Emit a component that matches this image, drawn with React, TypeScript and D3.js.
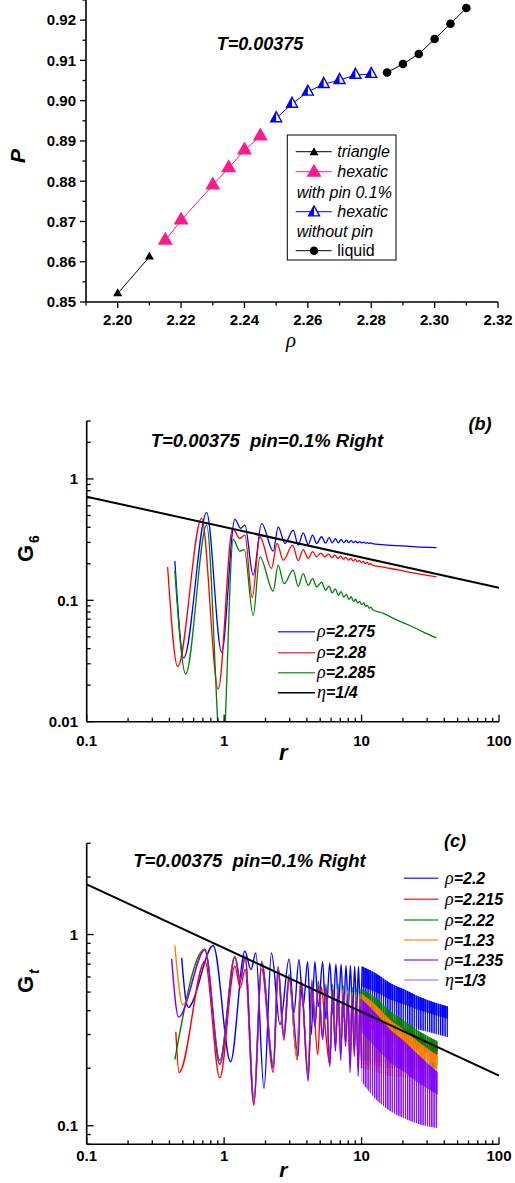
import React from 'react';
import * as d3 from 'd3';

type Pt = [number, number];
const FONT = '"Liberation Sans", Arial, Helvetica, sans-serif';
const SERIF = '"Liberation Serif", "Times New Roman", serif';

// ---------------- Panel (a): P vs rho ----------------
const triRho = [2.2, 2.21];
const triP = [0.8521, 0.8612];
const pinRho = [2.215, 2.22, 2.23, 2.235, 2.24, 2.245];
const pinP = [0.8653, 0.8703, 0.879, 0.8833, 0.8877, 0.8912];
const nopinRho = [2.25, 2.255, 2.26, 2.265, 2.27, 2.275, 2.28];
const nopinP = [0.8956, 0.8992, 0.9022, 0.9041, 0.9051, 0.9064, 0.9066];
const liqRho = [2.285, 2.29, 2.295, 2.3, 2.305, 2.31];
const liqP = [0.907, 0.9091, 0.9116, 0.9153, 0.9191, 0.923];
const aXTicks = [2.2, 2.22, 2.24, 2.26, 2.28, 2.3, 2.32];
const aYTicks = [0.85, 0.86, 0.87, 0.88, 0.89, 0.9, 0.91, 0.92];

// ---------------- Panel (b): G6 vs r ----------------
const bRho2275: Pt[] = [
  [0.438, 0.211], [0.508, 0.0336], [0.746, 0.527], [0.959, 0.0374], [1.198, 0.464], [1.318, 0.392],
  [1.416, 0.417], [1.627, 0.161], [1.874, 0.43], [2.275, 0.254], [2.474, 0.403], [2.77, 0.294],
  [3.18, 0.379], [3.46, 0.285], [3.76, 0.36], [4.09, 0.288], [4.4, 0.344], [4.71, 0.294],
  [5.12, 0.334], [5.47, 0.296], [5.8, 0.328], [6.12, 0.297], [6.45, 0.322], [6.78, 0.298],
  [7.1, 0.317], [7.43, 0.299], [7.75, 0.313], [8.08, 0.299], [8.4, 0.31], [8.73, 0.299],
  [9.05, 0.307], [9.38, 0.298], [9.7, 0.304], [10.0, 0.297], [10.4, 0.302], [10.7, 0.295],
  [11.0, 0.299], [11.4, 0.294], [11.7, 0.297], [12.0, 0.293], [14.0, 0.288], [18.0, 0.282],
  [25.0, 0.276], [35.1, 0.272],
];
const bRho228: Pt[] = [
  [0.388, 0.188], [0.459, 0.0285], [0.686, 0.473], [0.906, 0.0186], [1.153, 0.392], [1.3, 0.323],
  [1.416, 0.344], [1.6, 0.105], [1.82, 0.334], [2.21, 0.183], [2.43, 0.294], [2.69, 0.214],
  [3.15, 0.285], [3.46, 0.212], [3.76, 0.262], [4.09, 0.221], [4.4, 0.252], [4.71, 0.228],
  [5.05, 0.245], [5.4, 0.228], [5.75, 0.24], [6.08, 0.225], [6.4, 0.236], [6.72, 0.222],
  [7.05, 0.231], [7.38, 0.218], [7.7, 0.226], [8.03, 0.214], [8.35, 0.222], [8.68, 0.211],
  [9.0, 0.218], [9.33, 0.208], [9.65, 0.213], [10.0, 0.204], [10.3, 0.209], [10.6, 0.201],
  [11.0, 0.205], [11.3, 0.198], [11.6, 0.201], [12.0, 0.195], [15.0, 0.186], [19.0, 0.177],
  [23.6, 0.168], [35.1, 0.156],
];
const bRho2285: Pt[] = [
  [0.438, 0.175], [0.525, 0.0248], [0.746, 0.417], [0.965, 0.004], [1.165, 0.317], [1.3, 0.254],
  [1.4, 0.262], [1.627, 0.075], [1.82, 0.228], [2.275, 0.119], [2.47, 0.195], [2.73, 0.137],
  [3.18, 0.177], [3.46, 0.13], [3.76, 0.166], [4.09, 0.133], [4.4, 0.151], [4.71, 0.129],
  [5.12, 0.141], [5.47, 0.121], [5.8, 0.131], [6.12, 0.115], [6.45, 0.124], [6.78, 0.11],
  [7.1, 0.118], [7.43, 0.106], [7.75, 0.112], [8.08, 0.102], [8.4, 0.107], [8.73, 0.098],
  [9.05, 0.102], [9.38, 0.095], [9.7, 0.098], [10.0, 0.092], [10.4, 0.095], [10.7, 0.089],
  [11.0, 0.091], [11.4, 0.086], [11.7, 0.088], [12.0, 0.084], [14.4, 0.078], [18.0, 0.069],
  [22.4, 0.062], [28.0, 0.055], [35.1, 0.049],
];
const bEta14: Pt[] = [[0.1, 0.714], [100, 0.127]];

// ---------------- Panel (c): Gt vs r ----------------
const cRho22: Pt[] = [
  [0.491, 0.755], [0.535, 0.43], [0.555, 0.415], [0.575, 0.43], [0.833, 0.876], [1.114, 0.216],
  [1.416, 0.818], [1.567, 0.656], [1.7, 0.8], [1.95, 0.157], [2.21, 0.8], [2.55, 0.338],
  [2.97, 0.746], [3.22, 0.389], [3.5, 0.74], [3.76, 0.42], [4.05, 0.72], [4.3, 0.3],
  [4.57, 0.72], [4.85, 0.42], [5.21, 0.72], [5.5, 0.36], [5.87, 0.71], [6.2, 0.38],
  [6.5, 0.7], [6.8, 0.42], [7.1, 0.7], [7.4, 0.37], [7.7, 0.69], [8.0, 0.41], [8.3, 0.69],
  [8.6, 0.36], [8.9, 0.68], [9.2, 0.4], [9.5, 0.68], [9.8, 0.37], [10.1, 0.68],
];
const cRho2215: Pt[] = [
  [0.445, 0.31], [0.47, 0.19], [0.725, 0.725], [0.93, 0.178], [1.198, 0.683], [1.31, 0.526],
  [1.42, 0.656], [1.647, 0.128], [1.873, 0.66], [2.28, 0.19], [2.47, 0.62], [2.72, 0.28],
  [2.97, 0.58], [3.4, 0.22], [3.62, 0.56], [4.09, 0.19], [4.35, 0.55], [4.8, 0.235],
  [5.1, 0.53], [5.5, 0.3], [5.87, 0.21], [6.15, 0.52], [6.45, 0.26], [6.75, 0.5], [7.05, 0.24],
  [7.35, 0.49], [7.65, 0.27], [7.95, 0.48], [8.25, 0.21], [8.55, 0.47], [8.85, 0.25],
  [9.15, 0.46], [9.45, 0.2], [9.75, 0.46], [10.0, 0.22],
];
const cRho222: Pt[] = [
  [0.438, 0.222], [0.724, 0.84], [0.93, 0.22], [1.198, 0.77], [1.31, 0.58], [1.42, 0.77],
  [1.647, 0.14], [1.873, 0.725], [2.28, 0.21], [2.47, 0.68], [2.72, 0.3], [2.97, 0.62],
  [3.38, 0.23], [3.62, 0.6], [4.09, 0.18], [4.35, 0.58], [4.57, 0.34], [4.85, 0.57],
  [5.21, 0.29], [5.5, 0.55], [5.87, 0.21], [6.15, 0.55], [6.45, 0.27], [6.75, 0.55],
  [7.05, 0.25], [7.35, 0.54], [7.65, 0.28], [7.95, 0.53], [8.25, 0.22], [8.55, 0.53],
  [8.85, 0.26], [9.15, 0.52], [9.45, 0.21], [9.75, 0.52], [10.0, 0.23],
];
const cRho123: Pt[] = [
  [0.438, 0.876], [0.5, 0.43], [0.724, 0.84], [0.93, 0.21], [1.198, 0.77], [1.31, 0.58],
  [1.42, 0.77], [1.647, 0.135], [1.873, 0.72], [2.28, 0.205], [2.47, 0.68], [2.72, 0.29],
  [2.97, 0.61], [3.38, 0.225], [3.62, 0.59], [4.09, 0.175], [4.35, 0.57], [4.57, 0.335],
  [4.85, 0.55], [5.21, 0.285], [5.5, 0.54], [5.87, 0.205], [6.15, 0.53], [6.45, 0.26],
  [6.75, 0.52], [7.05, 0.24], [7.35, 0.52], [7.65, 0.27], [7.95, 0.51], [8.25, 0.21],
  [8.55, 0.5], [8.85, 0.25], [9.15, 0.5], [9.45, 0.2], [9.75, 0.49], [10.0, 0.22],
];
const cRho1235: Pt[] = [
  [0.415, 0.746], [0.466, 0.37], [0.724, 0.83], [0.93, 0.21], [1.198, 0.76], [1.31, 0.57],
  [1.42, 0.76], [1.647, 0.13], [1.873, 0.71], [2.28, 0.2], [2.47, 0.67], [2.72, 0.29],
  [2.97, 0.6], [3.46, 0.231], [3.62, 0.58], [4.09, 0.171], [4.35, 0.56], [4.57, 0.331],
  [4.85, 0.54], [5.21, 0.282], [5.5, 0.53], [5.87, 0.204], [6.15, 0.52], [6.45, 0.245],
  [6.75, 0.51], [7.05, 0.22], [7.35, 0.5], [7.65, 0.26], [7.95, 0.49], [8.25, 0.19],
  [8.55, 0.48], [8.85, 0.23], [9.15, 0.47], [9.45, 0.181], [9.75, 0.46], [10.0, 0.2],
];
// dense-oscillation region (r > 10): upper / lower envelopes
const cBandR = [10, 13, 16, 20, 25, 36];
const cBandR22 = [10.1, 13, 16, 20, 25, 42.6];
const cHi22 = [0.68, 0.62, 0.56, 0.52, 0.48, 0.42];
const cLo22 = [0.37, 0.355, 0.34, 0.33, 0.32, 0.29];
const cHi2215 = [0.46, 0.41, 0.37, 0.33, 0.3, 0.26];
const cLo2215 = [0.21, 0.205, 0.2, 0.2, 0.2, 0.2];
const cHi222 = [0.52, 0.46, 0.4, 0.36, 0.32, 0.276];
const cLo222 = [0.22, 0.215, 0.21, 0.205, 0.2, 0.2];
const cHi123 = [0.49, 0.42, 0.36, 0.32, 0.28, 0.232];
const cLo123 = [0.2, 0.19, 0.182, 0.18, 0.178, 0.178];
const cHi1235 = [0.46, 0.38, 0.32, 0.28, 0.24, 0.19];
const cLo1235 = [0.17, 0.135, 0.12, 0.11, 0.103, 0.097];
const cEta13: Pt[] = [[0.1, 1.83], [100, 0.183]];

const logMajorLabels = ['0.1', '1', '10', '100'];
const logMajorValues = [0.1, 1, 10, 100];
const bYLabels = ['0.01', '0.1', '1'];
const bYValues = [0.01, 0.1, 1];
const cYLabels = ['0.1', '1'];
const cYValues = [0.1, 1];

const BLUE = '#0000ff';
const RED = '#ff0000';
const GREEN = '#008000';
const ORANGE = '#ff8000';
const PURPLE = '#8000ff';
const PINK = '#ff1a8c';

const isMajorLog = (v: number) => Math.abs(Math.log10(v) - Math.round(Math.log10(v))) < 1e-6;

function triPath(x: number, y: number, w: number, h: number) {
  return `M${x - w / 2},${y + h / 3}L${x},${y - (2 * h) / 3}L${x + w / 2},${y + h / 3}Z`;
}
function triLeftHalf(x: number, y: number, w: number, h: number) {
  return `M${x - w / 2},${y + h / 3}L${x},${y - (2 * h) / 3}L${x},${y + h / 3}Z`;
}

function LogAxes({ x, y, yTop, yBottom, xLeft, xRight, yLabVals, yLabs, labBase }: any) {
  const xt = x.ticks();
  const yt = y.ticks();
  return (
    <g>
      <line x1={xLeft} x2={xLeft} y1={yTop} y2={yBottom} stroke="#000" strokeWidth={1.6} />
      <line x1={xLeft} x2={xRight} y1={yBottom} y2={yBottom} stroke="#000" strokeWidth={1.6} />
      {xt.map((v: number, i: number) => {
        const mj = isMajorLog(v);
        return <line key={'xt' + i} x1={x(v)} x2={x(v)} y1={yBottom} y2={yBottom - (mj ? 7 : 4)} stroke="#000" strokeWidth={1.3} />;
      })}
      {yt.map((v: number, i: number) => {
        const mj = isMajorLog(v);
        return <line key={'yt' + i} x1={xLeft} x2={xLeft + (mj ? 7 : 4)} y1={y(v)} y2={y(v)} stroke="#000" strokeWidth={1.3} />;
      })}
      {logMajorValues.map((v, i) => (
        <text key={'xl' + i} x={x(v)} y={labBase} textAnchor="middle" fontFamily={FONT} fontWeight="bold" fontSize={15}>
          {logMajorLabels[i]}
        </text>
      ))}
      {yLabVals.map((v: number, i: number) => (
        <text key={'yl' + i} x={78} y={y(v) + 5.3} textAnchor="end" fontFamily={FONT} fontWeight="bold" fontSize={15}>
          {yLabs[i]}
        </text>
      ))}
    </g>
  );
}

export default function App() {
  // ---------- scales ----------
  const ax = d3.scaleLinear().domain([2.19, 2.32]).range([86, 498]);
  const ay = d3.scaleLinear().domain([0.85, 0.925]).range([302, 0]);
  const bx = d3.scaleLog().domain([0.1, 100]).range([86.7, 499]);
  const by = d3.scaleLog().domain([0.01, 3]).range([721.7, 421]);
  const cx = d3.scaleLog().domain([0.1, 100]).range([86.7, 499]);
  const cy = d3.scaleLog().domain([0.08, 3]).range([1144.3, 843.3]);

  const seg = (xs: number[], ys: number[]) =>
    d3.line<number>().x((d) => ax(d)).y((_, i) => ay(ys[i]))(xs) as string;

  const bLine = d3.line<Pt>().x((d) => bx(d[0])).y((d) => by(d[1])).curve(d3.curveMonotoneX);
  const bStraight = d3.line<Pt>().x((d) => bx(d[0])).y((d) => by(d[1]));
  const cLine = d3.line<Pt>().x((d) => cx(d[0])).y((d) => cy(d[1])).curve(d3.curveMonotoneX);
  const cStraight = d3.line<Pt>().x((d) => cx(d[0])).y((d) => cy(d[1]));
  const band = (rs: number[], hi: number[], lo: number[]) =>
    d3
      .area<number>()
      .x((d) => cx(d))
      .y0((_, i) => cy(lo[i]))
      .y1((_, i) => cy(hi[i]))
      .curve(d3.curveMonotoneX)(rs) as string;
  // upper (densely covered) part of each band
  const bandTop = (rs: number[], hi: number[], lo: number[]) =>
    d3
      .area<number>()
      .x((d) => cx(d))
      .y0((_, i) => (cy(lo[i]) + 1.5 * cy(hi[i])) / 2.5)
      .y1((_, i) => cy(hi[i]))
      .curve(d3.curveMonotoneX)(rs) as string;

  const axTicks = ax.ticks(13);
  const ayTicks = ay.ticks(15);

  const cSeries = [
    { pts: cRho22, r: cBandR22, hi: cHi22, lo: cLo22, color: BLUE, id: 'sb' },
    { pts: cRho2215, r: cBandR, hi: cHi2215, lo: cLo2215, color: RED, id: 'sr' },
    { pts: cRho222, r: cBandR, hi: cHi222, lo: cLo222, color: GREEN, id: 'sg' },
    { pts: cRho123, r: cBandR, hi: cHi123, lo: cLo123, color: ORANGE, id: 'so' },
    { pts: cRho1235, r: cBandR, hi: cHi1235, lo: cLo1235, color: PURPLE, id: 'sp' },
  ];

  const bLegend = [
    { sym: 'ρ', txt: '=2.275', color: BLUE },
    { sym: 'ρ', txt: '=2.28', color: RED },
    { sym: 'ρ', txt: '=2.285', color: GREEN },
    { sym: 'η', txt: '=1/4', color: '#000' },
  ];
  const cLegend = [
    { sym: 'ρ', txt: '=2.2', color: BLUE },
    { sym: 'ρ', txt: '=2.215', color: RED },
    { sym: 'ρ', txt: '=2.22', color: GREEN },
    { sym: 'ρ', txt: '=1.23', color: ORANGE },
    { sym: 'ρ', txt: '=1.235', color: PURPLE },
    { sym: 'η', txt: '=1/3', color: '#b266ff' },
  ];
  const bLegY = [631.7, 652.7, 672.7, 692.7];
  const cLegY = [878.3, 899.3, 920, 940, 960, 980];

  return (
    <svg width={515} height={1183} style={{ position: 'absolute', left: 0, top: 0, display: 'block', background: '#fff' }}>
      <defs>
        <clipPath id="clipB">
          <rect x={86.7} y={421} width={499 - 86.7} height={721.7 - 421} />
        </clipPath>
        <clipPath id="clipC">
          <rect x={86.7} y={843.3} width={499 - 86.7} height={1144.3 - 843.3} />
        </clipPath>
        {cSeries.map((s) => (
          <g key={s.id}>
            <pattern id={s.id} patternUnits="userSpaceOnUse" width={2.2} height={6} x={0} y={0}>
              <rect x={0} y={0} width={1.35} height={6} fill={s.color} />
            </pattern>
            <pattern id={s.id + 'd'} patternUnits="userSpaceOnUse" width={2.2} height={6} x={0} y={0}>
              <rect x={0} y={0} width={1.9} height={6} fill={s.color} />
            </pattern>
          </g>
        ))}
      </defs>
      <rect x={0} y={0} width={515} height={1183} fill="#fff" />

      {/* ================= Panel (a) ================= */}
      <g>
        <line x1={86} x2={86} y1={0} y2={302} stroke="#000" strokeWidth={1.6} />
        <line x1={86} x2={498} y1={302} y2={302} stroke="#000" strokeWidth={1.6} />
        {axTicks.map((v, i) => {
          const mj = Math.round(v * 100) % 2 === 0;
          return <line key={'axt' + i} x1={ax(v)} x2={ax(v)} y1={302} y2={302 + (mj ? 6 : 3.5)} stroke="#000" strokeWidth={1.3} />;
        })}
        {ayTicks.map((v, i) => {
          const mj = Math.round(v * 1000) % 10 === 0;
          return <line key={'ayt' + i} x1={86} x2={86 - (mj ? 6 : 3.5)} y1={ay(v)} y2={ay(v)} stroke="#000" strokeWidth={1.3} />;
        })}
        {aXTicks.map((v, i) => (
          <text key={'axl' + i} x={ax(v)} y={324.5} textAnchor="middle" fontFamily={FONT} fontWeight="bold" fontSize={15}>
            {v.toFixed(2)}
          </text>
        ))}
        {aYTicks.map((v, i) => (
          <text key={'ayl' + i} x={76} y={ay(v) + 5.3} textAnchor="end" fontFamily={FONT} fontWeight="bold" fontSize={15}>
            {v.toFixed(2)}
          </text>
        ))}
        <text transform="translate(25,156) rotate(-90)" textAnchor="middle" fontFamily={FONT} fontWeight="bold" fontStyle="italic" fontSize={21}>
          P
        </text>
        <text x={291} y={347} textAnchor="middle" fontFamily={SERIF} fontStyle="italic" fontSize={21}>
          ρ
        </text>
        <text x={216.7} y={50} fontFamily={FONT} fontWeight="bold" fontStyle="italic" fontSize={18}>
          T=0.00375
        </text>

        {/* series */}
        <path d={seg(triRho, triP)} fill="none" stroke="#000" strokeWidth={1} />
        <path d={seg(pinRho, pinP)} fill="none" stroke={PINK} strokeWidth={1} />
        <path d={seg(nopinRho, nopinP)} fill="none" stroke={BLUE} strokeWidth={1} />
        <path d={seg(liqRho, liqP)} fill="none" stroke="#000" strokeWidth={1} />
        {triRho.map((v, i) => (
          <path key={'tr' + i} d={triPath(ax(v), ay(triP[i]), 9, 8)} fill="#000" />
        ))}
        {pinRho.map((v, i) => (
          <path key={'pn' + i} d={triPath(ax(v), ay(pinP[i]), 15, 13)} fill={PINK} />
        ))}
        {nopinRho.map((v, i) => (
          <g key={'np' + i}>
            <path d={triPath(ax(v), ay(nopinP[i]), 11, 10)} fill="#fff" stroke={BLUE} strokeWidth={1.4} strokeLinejoin="miter" />
            <path d={triLeftHalf(ax(v), ay(nopinP[i]), 11, 10)} fill={BLUE} />
          </g>
        ))}
        {liqRho.map((v, i) => (
          <circle key={'lq' + i} cx={ax(v)} cy={ay(liqP[i])} r={4.3} fill="#000" />
        ))}

        {/* legend */}
        <rect x={287.3} y={135} width={108.7} height={125} fill="#fff" stroke="#000" strokeWidth={1} />
        <line x1={295.7} x2={331.7} y1={151.7} y2={151.7} stroke="#000" strokeWidth={1} />
        <path d={triPath(314, 152.5, 9, 8)} fill="#000" />
        <line x1={295.7} x2={331.7} y1={171.7} y2={171.7} stroke={PINK} strokeWidth={1} />
        <path d={triPath(314, 172.5, 15, 13)} fill={PINK} />
        <line x1={295.7} x2={331.7} y1={211.7} y2={211.7} stroke={BLUE} strokeWidth={1} />
        <path d={triPath(314, 212.5, 11, 10)} fill="#fff" stroke={BLUE} strokeWidth={1.4} />
        <path d={triLeftHalf(314, 212.5, 11, 10)} fill={BLUE} />
        <line x1={295.7} x2={331.7} y1={250.7} y2={250.7} stroke="#000" strokeWidth={1} />
        <circle cx={314} cy={250.7} r={4.3} fill="#000" />
        <g fontFamily={FONT} fontSize={16}>
          <text x={337.3} y={157.2} fontStyle="italic">triangle</text>
          <text x={337.3} y={177.2} fontStyle="italic">hexatic</text>
          <text x={296.7} y={197.8} fontStyle="italic">with pin 0.1%</text>
          <text x={337.3} y={217.2} fontStyle="italic">hexatic</text>
          <text x={296.7} y={237.2} fontStyle="italic">without pin</text>
          <text x={337.3} y={256.2}>liquid</text>
        </g>
      </g>

      {/* ================= Panel (b) ================= */}
      <g>
        <g clipPath="url(#clipB)">
          <path d={bLine(bRho2275) as string} fill="none" stroke={BLUE} strokeWidth={1.3} />
          <path d={bLine(bRho228) as string} fill="none" stroke={RED} strokeWidth={1.3} />
          <path d={bLine(bRho2285) as string} fill="none" stroke={GREEN} strokeWidth={1.3} />
          <path d={bStraight(bEta14) as string} fill="none" stroke="#000" strokeWidth={2} />
        </g>
        <LogAxes x={bx} y={by} yTop={421} yBottom={721.7} xLeft={86.7} xRight={499} yLabVals={bYValues} yLabs={bYLabels} labBase={745.5} />
        <text transform="translate(33,562) rotate(-90)" fontFamily={FONT} fontWeight="bold" fontSize={22}>
          G<tspan dx={2} dy={6} fontSize={14}>6</tspan>
        </text>
        <text x={283.3} y={759.5} textAnchor="middle" fontFamily={FONT} fontWeight="bold" fontStyle="italic" fontSize={22}>
          r
        </text>
        <text x={150.7} y={446.7} fontFamily={FONT} fontWeight="bold" fontStyle="italic" fontSize={18.5} style={{ whiteSpace: 'pre' }}>
          {'T=0.00375  pin=0.1% Right'}
        </text>
        <text x={480} y={430} textAnchor="middle" fontFamily={FONT} fontWeight="bold" fontStyle="italic" fontSize={18}>
          (b)
        </text>
        {bLegend.map((e, i) => (
          <g key={'bl' + i}>
            <line x1={278} x2={315} y1={bLegY[i]} y2={bLegY[i]} stroke={e.color} strokeWidth={1.6} opacity={e.color === '#000' ? 1 : 0.75} />
            <text x={317} y={bLegY[i] + 5.5} fontFamily={FONT} fontWeight="bold" fontStyle="italic" fontSize={16}>
              <tspan fontFamily={SERIF} fontWeight="normal" fontSize={18}>{e.sym}</tspan>
              {e.txt}
            </text>
          </g>
        ))}
      </g>

      {/* ================= Panel (c) ================= */}
      <g>
        <g clipPath="url(#clipC)">
          {cSeries.map((s) => (
            <g key={'cs' + s.id}>
              <path d={band(s.r, s.hi, s.lo)} fill={`url(#${s.id})`} />
              <path d={bandTop(s.r, s.hi, s.lo)} fill={`url(#${s.id}d)`} />
              <path d={cLine(s.pts) as string} fill="none" stroke={s.color} strokeWidth={1.4} />
            </g>
          ))}
          <path d={cStraight(cEta13) as string} fill="none" stroke="#000" strokeWidth={2} />
        </g>
        <LogAxes x={cx} y={cy} yTop={843.3} yBottom={1144.3} xLeft={86.7} xRight={499} yLabVals={cYValues} yLabs={cYLabels} labBase={1160.5} />
        <text transform="translate(33,993) rotate(-90)" fontFamily={FONT} fontWeight="bold" fontSize={22}>
          G<tspan dx={2} dy={6} fontSize={14} fontStyle="italic">t</tspan>
        </text>
        <text x={283.3} y={1177} textAnchor="middle" fontFamily={FONT} fontWeight="bold" fontStyle="italic" fontSize={21}>
          r
        </text>
        <text x={133.3} y={867} fontFamily={FONT} fontWeight="bold" fontStyle="italic" fontSize={18.5} style={{ whiteSpace: 'pre' }}>
          {'T=0.00375  pin=0.1% Right'}
        </text>
        <text x={455} y={847} textAnchor="middle" fontFamily={FONT} fontWeight="bold" fontStyle="italic" fontSize={18}>
          (c)
        </text>
        {cLegend.map((e, i) => (
          <g key={'cl' + i}>
            <line x1={404} x2={438.3} y1={cLegY[i]} y2={cLegY[i]} stroke={e.color} strokeWidth={1.6} opacity={0.75} />
            <text x={445} y={cLegY[i] + 5.5} fontFamily={FONT} fontWeight="bold" fontStyle="italic" fontSize={16}>
              <tspan fontFamily={SERIF} fontWeight="normal" fontSize={18}>{e.sym}</tspan>
              {e.txt}
            </text>
          </g>
        ))}
      </g>
    </svg>
  );
}
